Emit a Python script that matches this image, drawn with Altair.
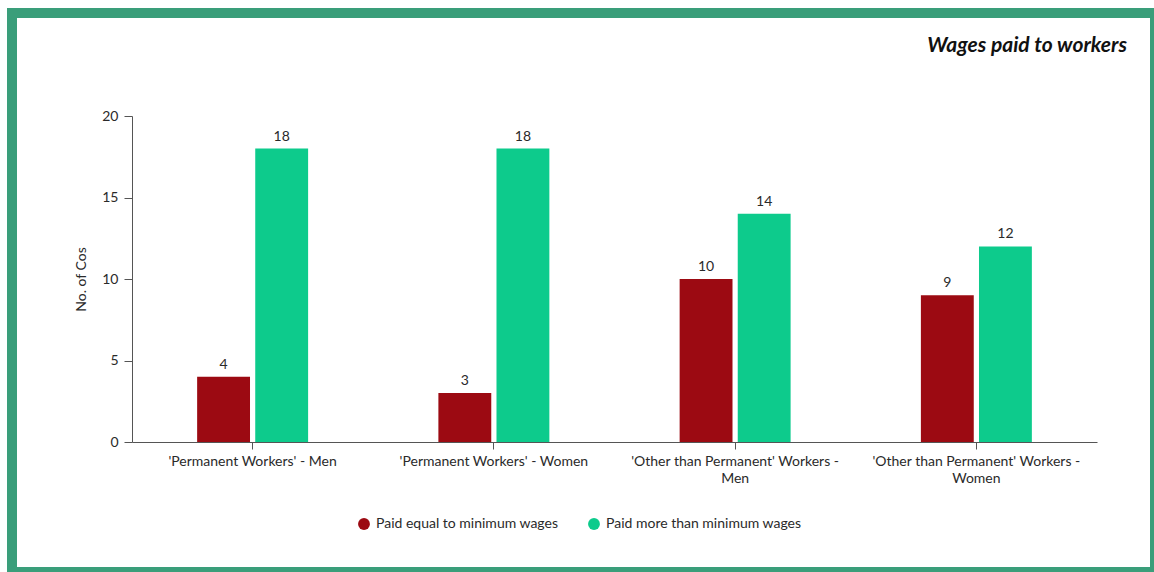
import altair as alt
import pandas as pd

categories = [
    "'Permanent Workers' - Men",
    "'Permanent Workers' - Women",
    "'Other than Permanent' Workers - Men",
    "'Other than Permanent' Workers - Women",
]
series_names = ["Paid equal to minimum wages", "Paid more than minimum wages"]
paid_equal = [4, 3, 10, 9]
paid_more = [18, 18, 14, 12]
series_colors = ["#9C0A12", "#0DCB8C"]
frame_color = "#3A9E7A"
font = "Lato"
text_color = "#2A2A2A"

rows = []
for c, v in zip(categories, paid_equal):
    rows.append({"category": c, "series": series_names[0], "value": v})
for c, v in zip(categories, paid_more):
    rows.append({"category": c, "series": series_names[1], "value": v})
df = pd.DataFrame(rows)

label_expr = (
    "indexof(datum.label, 'Other') >= 0 ? "
    "[slice(datum.label, 0, lastindexof(datum.label, ' ')), "
    "slice(datum.label, lastindexof(datum.label, ' ') + 1)] : datum.label"
)

x_enc = alt.X(
    "category:N",
    sort=categories,
    scale=alt.Scale(paddingInner=0.54, paddingOuter=0.27),
    axis=alt.Axis(
        title=None,
        labelAngle=0,
        labelExpr=label_expr,
        labelFont=font,
        labelFontSize=14,
        labelColor=text_color,
        labelLineHeight=17,
        labelPadding=5,
        tickSize=7,
        tickColor="#555555",
        domainColor="#555555",
        labelLimit=400,
    ),
)
xoff = alt.XOffset("series:N", sort=series_names, scale=alt.Scale(paddingInner=0.09))
y_enc = alt.Y(
    "value:Q",
    scale=alt.Scale(domain=[0, 20]),
    axis=alt.Axis(
        title="No. of Cos",
        values=[0, 5, 10, 15, 20],
        grid=False,
        labelFont=font,
        labelFontSize=14,
        labelColor=text_color,
        labelPadding=6,
        tickSize=8,
        tickColor="#555555",
        domainColor="#555555",
        titleFont=font,
        titleFontSize=14,
        titleFontWeight="normal",
        titleColor=text_color,
        titlePadding=13,
    ),
)
color_enc = alt.Color(
    "series:N",
    sort=series_names,
    scale=alt.Scale(domain=series_names, range=series_colors),
    legend=alt.Legend(
        title=None,
        orient="none",
        direction="horizontal",
        legendX=225,
        legendY=401,
        symbolType="circle",
        symbolSize=140,
        symbolStrokeWidth=0,
        labelFont=font,
        labelFontSize=14,
        labelColor=text_color,
        labelOffset=5,
        labelLimit=400,
        columnPadding=28,
    ),
)

bars = alt.Chart(df).mark_bar().encode(x=x_enc, xOffset=xoff, y=y_enc, color=color_enc)
labels = alt.Chart(df).mark_text(
    baseline="bottom", dy=-5, font=font, fontSize=14, color=text_color
).encode(x=x_enc, xOffset=xoff, y=y_enc, text="value:Q")

one = alt.Data(values=[{}])
title = alt.Chart(one).mark_text(
    text="Wages paid to workers",
    align="right",
    baseline="alphabetic",
    font=font,
    fontSize=21,
    fontStyle="italic",
    fontWeight="bold",
    color="#111111",
).encode(x=alt.value(995), y=alt.value(-64))

def strip(x1, x2, y1, y2):
    return alt.Chart(one).mark_rect(color=frame_color).encode(
        x=alt.value(x1), x2=alt.value(x2), y=alt.value(y1), y2=alt.value(y2)
    )

frame = [
    strip(-125, -115, -108, 456),
    strip(-125, 1022, -108, -98),
    strip(1018, 1022, -108, 456),
    strip(-125, 1022, 451, 456),
]

chart = alt.layer(bars, labels, title, *frame).properties(
    width=965,
    height=326,
    padding={"left": 7, "top": 8, "right": 0, "bottom": 0},
    background="white",
).configure_view(stroke=None)

chart.save("out.html", embed_options={"renderer": "svg", "actions": False})
